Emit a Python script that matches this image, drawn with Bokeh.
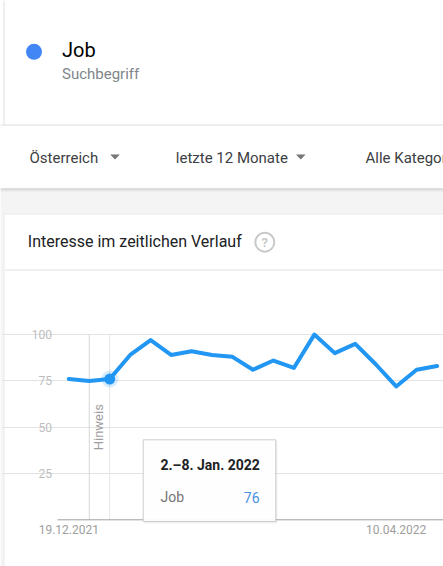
import math
from bokeh.plotting import figure
from bokeh.models import Range1d, Label, Grid, FixedTicker
from bokeh.core.properties import value
from bokeh.embed import file_html
from bokeh.resources import INLINE

# ---------------- data ----------------
weeks = ["19.12.2021", "26.12.2021", "02.01.2022", "09.01.2022", "16.01.2022",
         "23.01.2022", "30.01.2022", "06.02.2022", "13.02.2022", "20.02.2022",
         "27.02.2022", "06.03.2022", "13.03.2022", "20.03.2022", "27.03.2022",
         "03.04.2022", "10.04.2022", "17.04.2022", "24.04.2022"]
interest = [76, 75, 76, 89, 97, 89, 91, 89, 88, 81, 86, 82, 100, 90, 95, 84, 72, 81, 83]
y_ticks = [25, 50, 75, 100]
y_tick_labels = ["25", "50", "75", "100"]
x_tick_labels = ["19.12.2021", "10.04.2022"]
note_week = "26.12.2021"
hover_week = "02.01.2022"
term = "Job"
term_kind = "Suchbegriff"
filters = ["Österreich", "letzte 12 Monate", "Alle Kategorien"]
card_title = "Interesse im zeitlichen Verlauf"
tooltip_title = "2.–8. Jan. 2022"

idx = list(range(len(weeks)))

# ---------------- layout (pixels of the 443x566 window) ----------------
W, H, OFF = 443, 566, 0
X0, DX = 68.3, 20.46      # x of first week, px per week
Y0, DY = 519.3, 1.852     # y of value 0, px per unit


def dx(px):
    return (px - X0) / DX


def dy(py):
    return (Y0 - py) / DY


FONT = "Roboto"
LINE_BLUE = "#2196f3"

p = figure(width=W, height=H, x_range=Range1d(dx(OFF), dx(OFF + W)),
           y_range=Range1d(dy(OFF + H), dy(OFF)), min_border=0,
           toolbar_location=None, output_backend="svg",
           x_axis_type=None, y_axis_type=None, outline_line_color=None,
           background_fill_color="white", border_fill_color="white")


def txt(px, py, s, size, color, align="left", baseline="middle",
        style="normal", angle=0.0):
    p.add_layout(Label(x=dx(px), y=dy(py), text=s, text_font=FONT,
                       text_font_size=f"{size}px", text_color=color,
                       text_align=align, text_baseline=baseline,
                       text_font_style=style, angle=angle))


def hline(py, x0, x1, color, width=1, alpha=1.0):
    p.segment(x0=[dx(x0)], x1=[dx(x1)], y0=[dy(py)], y1=[dy(py)],
              line_color=color, line_width=width, line_alpha=alpha)


def vline(px, y0, y1, color, width=1):
    p.segment(x0=[dx(px)], x1=[dx(px)], y0=[dy(y0)], y1=[dy(y1)],
              line_color=color, line_width=width)


def box(l, r, t, b, fill, alpha=1.0, line=None):
    p.quad(left=[dx(l)], right=[dx(r)], top=[dy(t)], bottom=[dy(b)],
           fill_color=fill, fill_alpha=alpha, line_color=line)


# ---------------- header ----------------
vline(3.5, 0, 124, "#e0e0e0")
hline(124.5, 0, 460, "#dcdcdc")
p.scatter(x=[dx(33.5)], y=[dy(51.3)], size=16, marker="circle",
          fill_color="#4285f4", line_color=None)
txt(61.5, 49.5, term, 20, "#000000")
txt(61.5, 73, term_kind, 15, "#80868b")

# filter bar
txt(29, 157, filters[0], 15, "#3c4043")
txt(175.3, 157, filters[1], 15, "#3c4043")
txt(365, 157, filters[2], 15, "#3c4043")
for cx in (114.5, 300.3):
    p.patch(x=[dx(cx - 4.8), dx(cx + 4.8), dx(cx)],
            y=[dy(154), dy(154), dy(159)], fill_color="#757575",
            line_color=None)

# grey page band with shadow
box(0, 460, 188, 214, "#f4f4f4")
box(0, 3, 214, 600, "#f4f4f4")
hline(188.5, 0, 460, "#c4c4c4")
hline(189.5, 0, 460, "#d8d8d8")
hline(190.5, 0, 460, "#e8e8e8")
hline(213.5, 3, 460, "#ececec")
vline(3.5, 214, 600, "#e8e8e8")

# card title
txt(27.3, 241, card_title, 16, "#202124")
p.scatter(x=[dx(264.3)], y=[dy(241.7)], size=19, marker="circle",
          fill_color=None, line_color="#c8c8c8", line_width=2)
txt(264.3, 242.2, "?", 13, "#c8c8c8", align="center", style="bold")
hline(269.5, 4, 460, "#e0e0e0")

# ---------------- chart ----------------
grid = Grid(dimension=1, ticker=FixedTicker(ticks=y_ticks),
            bounds=(dx(57), dx(460)), grid_line_color="#e3e3e3",
            grid_line_width=1)
p.add_layout(grid)

p.text(x=[dx(51.5)] * len(y_ticks), y=y_ticks, text=y_tick_labels,
       text_font=value(FONT), text_font_size="12px", text_color="#bdbdbd",
       text_align="right", text_baseline="middle")

# note and hover lines
ni = weeks.index(note_week)
hi = weeks.index(hover_week)
p.segment(x0=[ni], x1=[ni], y0=[0], y1=[max(y_ticks)], line_color="#d6d6d6",
          line_width=1)
p.segment(x0=[hi], x1=[hi], y0=[0], y1=[max(y_ticks)], line_color="#e6e6e6",
          line_width=1)
p.text(x=[ni + 0.45], y=[50], text=["Hinweis"], text_font=value(FONT),
       text_font_size="13px", text_color="#9e9e9e", text_align="center",
       text_baseline="middle", angle=math.pi / 2)

# baseline (x axis line)
p.segment(x0=[dx(57)], x1=[dx(460)], y0=[0], y1=[0], line_color="#9e9e9e",
          line_width=1)
xt = [weeks.index(s) for s in x_tick_labels]
p.text(x=xt, y=[dy(529)] * len(xt), text=x_tick_labels,
       text_font=value(FONT), text_font_size="12px", text_color="#9e9e9e",
       text_align="center", text_baseline="middle")

# series
p.line(x=idx, y=interest, line_color=LINE_BLUE, line_width=4,
       line_join="round", line_cap="round")
p.scatter(x=[hi], y=[interest[hi]], size=17, marker="circle",
          fill_color=LINE_BLUE, fill_alpha=0.18, line_color=None)
p.scatter(x=[hi], y=[interest[hi]], size=11, marker="circle",
          fill_color=LINE_BLUE, line_color=None)

# tooltip
box(143.7, 276.8, 440.3, 523, "#000000", alpha=0.06)
box(142.7, 275.3, 439.3, 521, "#ffffff", alpha=0.93, line="#cccccc")
txt(160, 464, tooltip_title, 14, "#202124", style="bold")
txt(160, 496.7, term, 14, "#757575")
txt(259, 496.7, str(interest[hi]), 14, "#4a90e2", align="right")

open("out.html", "w").write(file_html(p, INLINE))
